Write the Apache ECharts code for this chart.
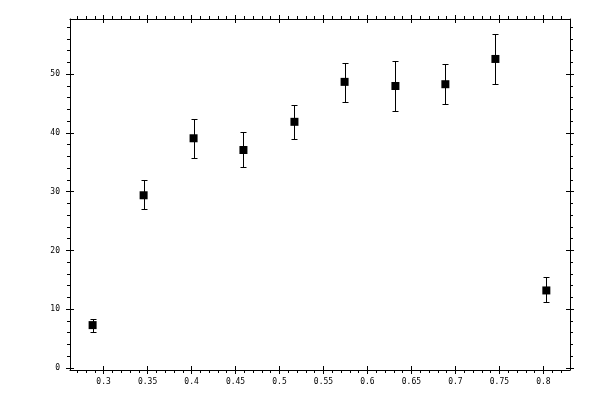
<!DOCTYPE html>
<html>
<head>
<meta charset="utf-8">
<script src="https://cdn.jsdelivr.net/npm/echarts@6/dist/echarts.min.js"></script>
<style>
html,body{margin:0;padding:0;background:#fff;}
#chart{width:600px;height:400px;}
</style>
</head>
<body>
<div id="chart"></div>
<script>
// ---- data ----
var xValues = [0.2875, 0.3455, 0.4023, 0.459, 0.517, 0.574, 0.6318, 0.6886, 0.7455, 0.8034];
var yValues = [7.3, 29.4, 39.1, 37.1, 41.9, 48.7, 48.0, 48.3, 52.6, 13.2];
var yLow    = [6.1, 27.0, 35.7, 34.2, 39.0, 45.3, 43.7, 44.9, 48.3, 11.2];
var yHigh   = [8.3, 32.0, 42.4, 40.2, 44.8, 51.9, 52.3, 51.7, 56.8, 15.5];

// ---- axis ticks ----
var xMajorTicks = [0.3, 0.35, 0.4, 0.45, 0.5, 0.55, 0.6, 0.65, 0.7, 0.75, 0.8];
var xMinorTicks = [0.27, 0.28, 0.29, 0.31, 0.32, 0.33, 0.34, 0.36, 0.37, 0.38, 0.39,
                   0.41, 0.42, 0.43, 0.44, 0.46, 0.47, 0.48, 0.49, 0.51, 0.52, 0.53, 0.54,
                   0.56, 0.57, 0.58, 0.59, 0.61, 0.62, 0.63, 0.64, 0.66, 0.67, 0.68, 0.69,
                   0.71, 0.72, 0.73, 0.74, 0.76, 0.77, 0.78, 0.79, 0.81, 0.82];
var yMajorTicks = [0, 10, 20, 30, 40, 50];
var yMinorTicks = [2, 4, 6, 8, 12, 14, 16, 18, 22, 24, 26, 28, 32, 34, 36, 38,
                   42, 44, 46, 48, 52, 54, 56, 58];
var xRange = [0.2618, 0.8303];
var yRange = [-0.34, 59.4];

var chart = echarts.init(document.getElementById('chart'), null, {renderer: 'canvas'});

var FONT = 'DejaVu Sans Mono';
var lineStyle = {color: '#000', width: 1};

function xAxisDef(position, opts) {
  return {
    type: 'value', position: position, min: xRange[0], max: xRange[1],
    axisLine: {show: !!opts.line, onZero: false, lineStyle: lineStyle},
    axisTick: {show: true, inside: !!opts.inside, length: opts.len,
               customValues: opts.ticks, lineStyle: lineStyle},
    axisLabel: opts.labels ? {show: true, customValues: xMajorTicks, margin: 8,
               color: '#000', fontFamily: FONT, fontSize: 8,
               formatter: function (v) { return String(+v.toFixed(2)); }} : {show: false},
    splitLine: {show: false}, minorTick: {show: false}
  };
}
function yAxisDef(position, opts) {
  return {
    type: 'value', position: position, min: yRange[0], max: yRange[1],
    axisLine: {show: !!opts.line, onZero: false, lineStyle: lineStyle},
    axisTick: {show: true, inside: !!opts.inside, length: opts.len,
               customValues: opts.ticks, lineStyle: lineStyle},
    axisLabel: opts.labels ? {show: true, customValues: yMajorTicks, margin: 10,
               color: '#000', fontFamily: FONT, fontSize: 8} : {show: false},
    splitLine: {show: false}, minorTick: {show: false}
  };
}

var option = {
  animation: false,
  backgroundColor: '#fff',
  grid: {left: 70, top: 19, right: 30, bottom: 30, containLabel: false, outerBoundsMode: 'none'},
  xAxis: [
    xAxisDef('bottom', {line: true, len: 4, ticks: xMajorTicks, labels: true}),
    xAxisDef('bottom', {inside: true, len: 4, ticks: xMajorTicks}),
    xAxisDef('bottom', {len: 3, ticks: xMinorTicks}),
    xAxisDef('top', {line: true, len: 4, ticks: xMajorTicks}),
    xAxisDef('top', {inside: true, len: 4, ticks: xMajorTicks}),
    xAxisDef('top', {len: 3, ticks: xMinorTicks})
  ],
  yAxis: [
    yAxisDef('left', {line: true, len: 4, ticks: yMajorTicks, labels: true}),
    yAxisDef('left', {inside: true, len: 4, ticks: yMajorTicks}),
    yAxisDef('left', {len: 3, ticks: yMinorTicks}),
    yAxisDef('right', {line: true, len: 4, ticks: yMajorTicks}),
    yAxisDef('right', {inside: true, len: 4, ticks: yMajorTicks}),
    yAxisDef('right', {len: 3, ticks: yMinorTicks})
  ],
  series: [
    {
      type: 'custom',
      xAxisIndex: 0, yAxisIndex: 0,
      data: xValues.map(function (x, i) { return [x, yLow[i], yHigh[i]]; }),
      renderItem: function (params, api) {
        var lo = api.coord([api.value(0), api.value(1)]);
        var hi = api.coord([api.value(0), api.value(2)]);
        var cx = Math.round(lo[0]) + 0.5;
        var cap = 3;
        var yl = Math.round(lo[1]) + 0.5, yh = Math.round(hi[1]) + 0.5;
        return {
          type: 'group',
          children: [
            {type: 'line', shape: {x1: cx, y1: yl, x2: cx, y2: yh}, style: {stroke: '#000', lineWidth: 1}},
            {type: 'line', shape: {x1: cx - cap, y1: yl, x2: cx + cap, y2: yl}, style: {stroke: '#000', lineWidth: 1}},
            {type: 'line', shape: {x1: cx - cap, y1: yh, x2: cx + cap, y2: yh}, style: {stroke: '#000', lineWidth: 1}}
          ]
        };
      },
      z: 2
    },
    {
      type: 'scatter',
      xAxisIndex: 0, yAxisIndex: 0,
      symbol: 'rect',
      symbolSize: 8,
      itemStyle: {color: '#000', opacity: 1},
      data: xValues.map(function (x, i) { return [x, yValues[i]]; }),
      z: 3
    }
  ]
};
chart.setOption(option);
</script>
</body>
</html>
